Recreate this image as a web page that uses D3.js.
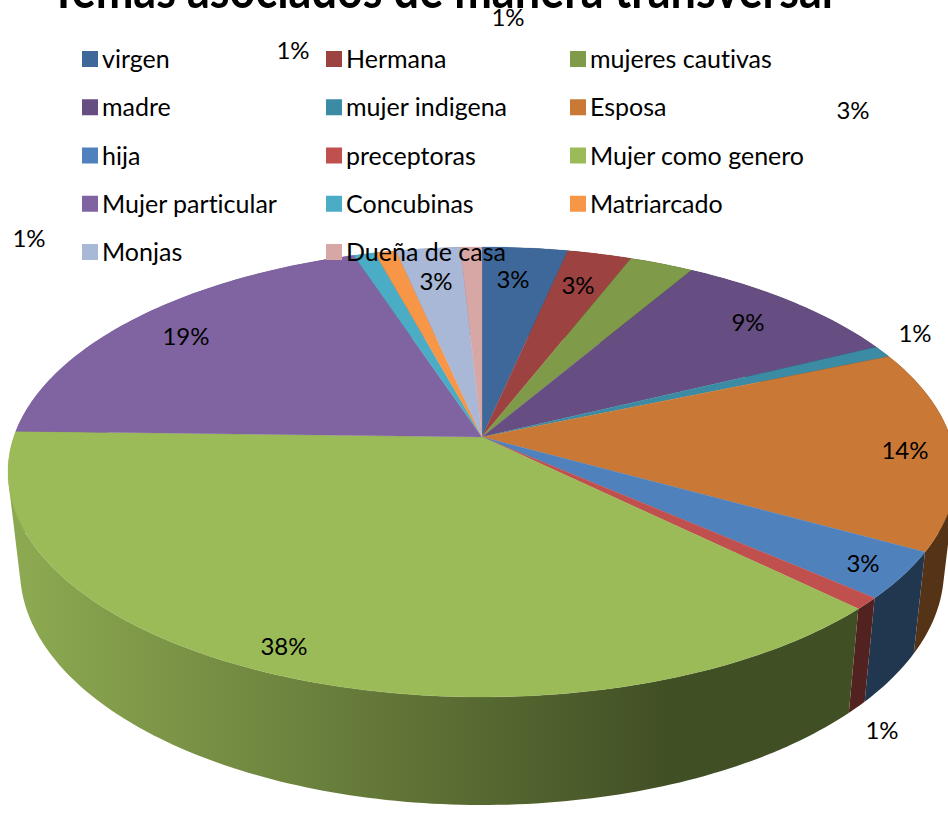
<!DOCTYPE html>
<html>
<head>
<meta charset="utf-8">
<script src="https://cdn.jsdelivr.net/npm/d3@7"></script>
<style>
  html, body { margin: 0; padding: 0; background: #fff; overflow: hidden; }
  text { font-family: Lato, "Open Sans", sans-serif; fill: #000; font-variant-ligatures: none; }
</style>
</head>
<body>
<div id="chart"></div>
<script>
const width = 948;
const height = 814;

const titleText = "Temas asociados de manera transversal";
const categories = ["virgen", "Hermana", "mujeres cautivas", "madre", "mujer indigena", "Esposa", "hija",
  "preceptoras", "Mujer como genero", "Mujer particular", "Concubinas", "Matriarcado", "Monjas", "Dueña de casa"];
const values = [4, 3, 3, 11, 1, 17, 4, 1, 45, 23, 1, 1, 3, 1];
const colors = ["#3f689a", "#9c4341", "#7f9a48", "#664e82", "#3a8ba3", "#c97935", "#4f81bd",
  "#c0504d", "#9bbb59", "#8064a2", "#4bacc6", "#f79646", "#a9b8d6", "#d7a7a6"];

// donde cae cada etiqueta de porcentaje (puestas a mano en el original)
const labelX = [513, 578, 853, 748, 915, 905, 863, 882, 284, 186, 29, 293, 436, 508];
const labelY = [279, 285, 110, 322, 333, 450, 563, 730, 646, 336, 238, 50, 281, 17];

// elipses superior e inferior del pastel, con perspectiva
const topRim = { cx: 482, cy: 472, rx: 474, ry: 225 };
const bottomRim = { cx: 482, cy: 570, rx: 462, ry: 235 };
const tilt = -0.1556;

function project(rim, angle) {
  const ux = Math.sin(angle);
  const uy = -Math.cos(angle);
  const d = 1 + tilt * uy;
  return [
    rim.cx + rim.rx * ux * Math.sqrt(1 - tilt * tilt) / d,
    rim.cy + rim.ry * (uy + tilt) / d,
  ];
}

function sampleAngles(a0, a1) {
  const out = d3.range(a0, a1, Math.PI / 180);
  out.push(a1);
  return out;
}

const svg = d3.select("#chart")
  .append("svg")
  .attr("width", width)
  .attr("height", height)
  .attr("viewBox", [0, 0, width, height]);

const arcs = d3.pie().sort(null)(values);
const line = d3.line();
const center = [topRim.cx, topRim.cy + topRim.ry * tilt];

// sombra de la pared lateral
const defs = svg.append("defs");
const shadeLeft = 0.9;
const shadeRight = 0.42;
colors.forEach((color, i) => {
  const c = d3.rgb(color);
  const grad = defs.append("linearGradient")
    .attr("id", "wall" + i)
    .attr("gradientUnits", "userSpaceOnUse")
    .attr("x1", 30)
    .attr("x2", 670)
    .attr("y1", 0)
    .attr("y2", 0);
  grad.append("stop").attr("offset", 0).attr("stop-color", d3.rgb(c.r * shadeLeft, c.g * shadeLeft, c.b * shadeLeft).formatHex());
  grad.append("stop").attr("offset", 1).attr("stop-color", d3.rgb(c.r * shadeRight, c.g * shadeRight, c.b * shadeRight).formatHex());
});

// pared: un trozo por grado, todos con el mismo sentido para que el relleno los una
svg.append("g")
  .selectAll("path")
  .data(arcs)
  .join("path")
  .attr("fill", (d) => "url(#wall" + d.index + ")")
  .attr("d", (d) => d3.pairs(sampleAngles(d.startAngle, d.endAngle)).map(([p, q]) => {
    const quad = [project(topRim, p), project(topRim, q), project(bottomRim, q), project(bottomRim, p)];
    if (d3.polygonArea(quad) < 0) quad.reverse();
    return line(quad) + "Z";
  }).join(""));

// cara superior
svg.append("g")
  .selectAll("path")
  .data(arcs)
  .join("path")
  .attr("fill", (d) => colors[d.index])
  .attr("stroke", (d) => colors[d.index])
  .attr("stroke-width", 0.3)
  .attr("d", (d) => line([center, ...sampleAngles(d.startAngle, d.endAngle).map((a) => project(topRim, a))]) + "Z");

// leyenda
const legendCol = d3.scalePoint().domain([0, 1, 2]).range([82, 570]);
const legendRow = d3.scalePoint().domain([0, 1, 2, 3, 4]).range([59, 252]);
const legend = svg.append("g")
  .selectAll("g")
  .data(categories)
  .join("g")
  .attr("transform", (d, i) => "translate(" + legendCol(i % 3) + "," + legendRow(Math.floor(i / 3)) + ")");
legend.append("rect")
  .attr("y", -8)
  .attr("width", 16)
  .attr("height", 16)
  .attr("fill", (d, i) => colors[i]);
legend.append("text")
  .attr("x", 20)
  .attr("y", 9)
  .attr("font-size", 25)
  .text((d) => d);

// porcentajes
const total = d3.sum(values);
svg.append("g")
  .selectAll("text")
  .data(values)
  .join("text")
  .attr("x", (d, i) => labelX[i])
  .attr("y", (d, i) => labelY[i] + 9)
  .attr("text-anchor", "middle")
  .attr("font-size", 24)
  .text((d) => d3.format(".0%")(d / total));

// titulo, cortado por arriba como en el original
svg.append("text")
  .attr("x", 50)
  .attr("y", 8)
  .attr("font-size", 52)
  .attr("font-weight", 700)
  .attr("textLength", 783)
  .attr("lengthAdjust", "spacingAndGlyphs")
  .text(titleText);
</script>
</body>
</html>
